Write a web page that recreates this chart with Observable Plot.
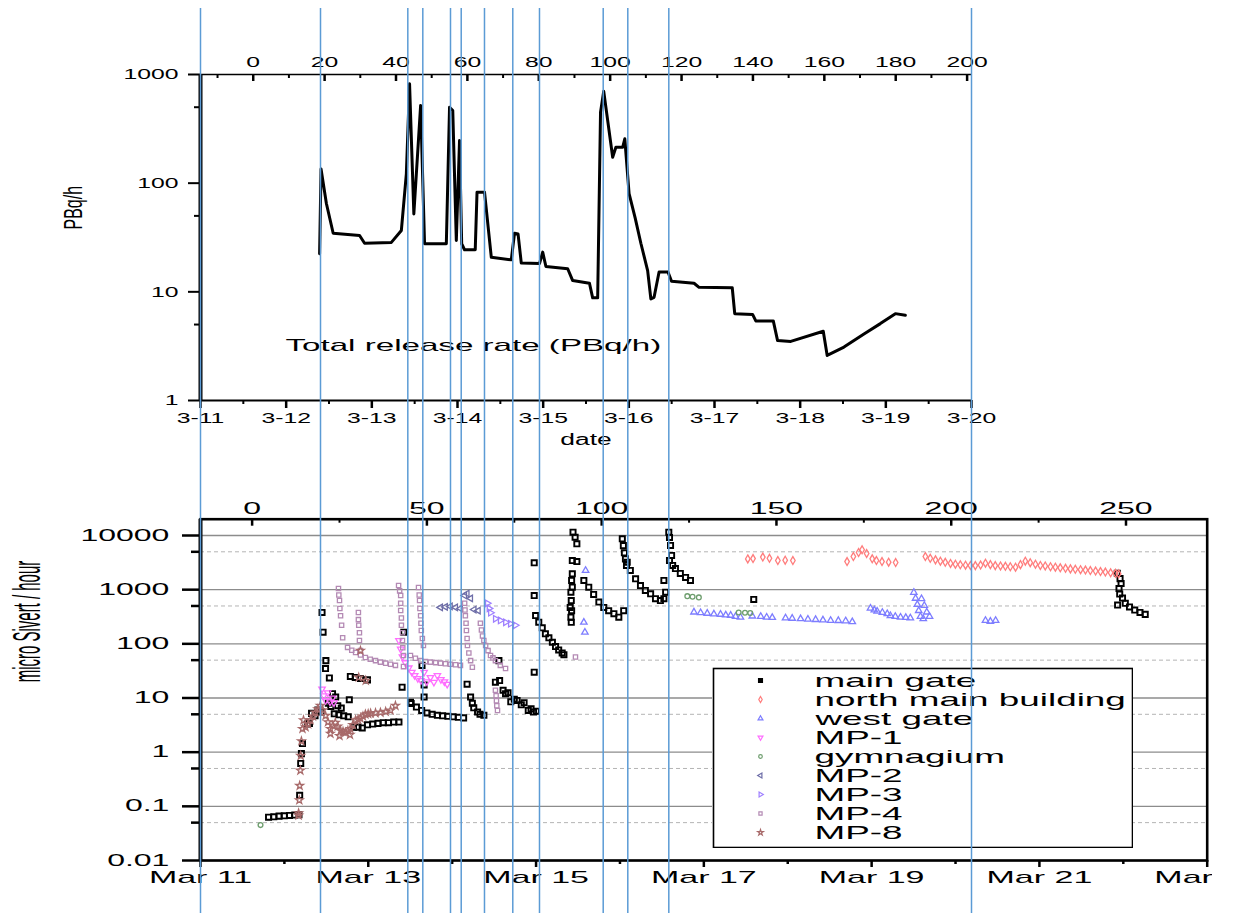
<!DOCTYPE html>
<html>
<head>
<meta charset="utf-8">
<script src="https://cdn.jsdelivr.net/npm/d3@7"></script>
<script src="https://cdn.jsdelivr.net/npm/@observablehq/plot@0.6"></script>
<style>
  body { margin: 0; background: #fff; }
  #wrap { position: relative; width: 1245px; height: 913px; overflow: hidden; background: #fff; }
  #wrap svg { max-width: none !important; }
</style>
</head>
<body>
<div id="wrap"></div>
<script>
// ---------------- DATA ----------------
// hours since the earthquake (3-11 14:46) -> x values; 3-11 00:00 is -14.77 h
const QUAKE_H = 14.77;

// top panel: total release rate (PBq/h)
const releaseRate = [[18.6,22.4],[19.0,135],[20.5,65],[22.4,34.6],[29.8,33],[31.2,28],[38.7,28.5],[41.5,36.7],[42.9,122],[43.8,820],[45.0,52],[46.9,519],[48.0,27.7],[54.1,27.7],[55.0,500],[55.9,465],[56.9,29.7],[57.8,247],[58.4,27.7],[59.2,24.4],[62.2,24.4],[62.7,82.6],[64.8,82.6],[66.7,20.8],[72.3,19.7],[73.2,34.6],[74.2,34],[75.1,18.4],[80.2,18.2],[81.1,23.2],[82.0,17.1],[88.1,16.3],[89.5,12.7],[94.2,12.0],[95.1,8.8],[96.5,8.8],[97.3,450],[98.2,700],[100.7,173],[101.6,214],[103.5,214],[104.1,256],[105.3,80],[107.0,48],[108.6,28],[110.5,15.7],[111.4,8.6],[112.3,8.9],[113.7,15.2],[116.2,15.2],[117.2,12.5],[123.5,12.0],[124.9,11.0],[134.2,10.9],[134.9,6.3],[139.9,6.2],[140.8,5.4],[145.7,5.4],[146.9,3.56],[150.6,3.5],[159.7,4.34],[160.8,2.6],[165.5,3.1],[171.1,4.1],[175.7,5.1],[179.9,6.3],[182.7,6.1]];
const releaseLabel = "Total release rate (PBq/h)";
const releaseYTicks = [1, 10, 100, 1000];
const releaseYMinor = [5, 50, 500];
const topDayLabels = ["3-11","3-12","3-13","3-14","3-15","3-16","3-17","3-18","3-19","3-20"];
const topHourTicks = [0,20,40,60,80,100,120,140,160,180,200];
const topHourMinor = [-10,10,30,50,70,90,110,130,150,170,190];

// event lines (hours on the top axis)
const eventLines = [-14.77, 18.85, 43.31, 47.51, 55.27, 58.27, 64.79, 72.72, 80.2, 98.05, 104.94, 116.43, 201.23];

// bottom panel: dose rate (micro Sv/h) by monitoring post
const seriesNames = ["main gate","north main building","west gate","MP-1","gymnagium","MP-2","MP-3","MP-4","MP-8"];
const seriesColors = ["#000000","#ff7d7d","#7d7dff","#ff6eff","#6e9e6e","#6e6ea8","#9f80ff","#b48ab4","#a86a6a"];

const mainGate = [[4.7,0.063],[6.2,0.064],[7.7,0.066],[9.2,0.067],[10.7,0.068],[12.2,0.069],[13.4,0.07],
 [13.6,0.16],[13.9,0.62],[14.1,0.94],[14.4,1.44],[15.8,3.3],[16.4,3.4],[17.0,5.2],[18.0,4.7],[18.8,6.0],[19.8,5.5],
 [20.0,380],[20.3,164],[21.1,49],[21.0,35],[22.1,23.5],[23.0,12],[23.9,10.4],[21.8,8.0],[22.5,7.0],[24.5,7.2],[25.5,6.5],[27.8,9.3],
 [28.1,25],[29.5,24],[31.0,23],[33.0,21.6],
 [23.5,5.1],[24.8,4.9],[26.2,4.7],[27.5,4.5],[29.0,2.9],[30.3,2.9],[31.5,2.8],[33.0,3.2],[34.5,3.3],[36.0,3.4],[37.5,3.5],[39.0,3.5],[40.5,3.6],[42.0,3.6],
 [42.9,15.8],[43.4,164],[45.3,8.3],[45.5,7.9],[47.0,6.8],[48.6,40],[49.2,17.4],[49.2,10.4],
 [48.5,5.9],[50.0,5.3],[51.5,5.0],[53.0,4.8],[54.5,4.7],[56.0,4.6],[57.5,4.5],[59.0,4.4],[60.5,4.3],
 [61.5,18],[62.5,10.4],[63.0,8.0],[63.4,6.6],[64.5,5.5],[65.2,5.0],[66.3,4.8],
 [69.6,19.6],[70.6,49],[70.8,21],[71.8,13.9],[72.5,12],[73.2,12.5],[74.0,8.5],[75.0,9.5],[75.8,9.0],[77.0,7.5],[77.8,8.2],[79.0,5.9],[79.8,6.3],[80.5,5.5],[81.3,5.7],
 [80.7,3130],[80.7,780],[80.7,30],
 [81.1,333],[82.0,251],[83.0,198],[83.9,153],[84.9,129],[85.9,107],[86.8,89],[87.7,77],[88.7,68],[89.2,63],
 [91.8,11500],[92.4,9300],[92.9,7030],[91.6,3450],[92.9,3300],[91.6,1960],[91.4,1480],[91.6,1110],[91.2,900],[91.3,630],[91.0,470],[91.4,410],[91.2,310],[91.3,250],
 [94.9,1480],[96.3,1110],[97.7,815],[99.2,590],[100.6,470],[102.0,410],[103.5,360],[104.9,310],[106.3,410],
 [105.9,8700],[106.2,6500],[106.5,4800],[106.8,3700],[107.1,2800],[107.3,3200],
 [108.2,2260],[109.7,1590],[111.1,1190],[112.5,966],[114.0,840],[115.4,680],[116.8,630],[117.8,680],[117.8,1480],[118.3,900],
 [119.2,11500],[119.4,9200],[119.7,6540],[120.0,4280],[119.4,3450],[120.3,2800],
 [121.1,2450],[122.5,1990],[124.0,1680],[125.4,1480],
 [143.5,660],
 [247.5,2010],[248.3,1600],[248.6,1300],[248.0,1050],[248.2,830],[249.0,700],[247.6,520],[249.8,560],[251.0,480],[252.5,420],[254.0,380],[255.5,350]];

const northMainBuilding = [[141.8,3700],[143.3,3750],[146.1,4000],[148.0,3800],[150.4,3450],[152.5,3500],[154.7,3450],
 [170.2,3300],[172.0,4090],[173.5,4850],[174.5,5450],[175.8,4660],[177.4,3710],[178.6,3450],
 [180.2,3300],[182.1,3220],[184.1,3170],
 [192.6,4090],[194.0,3800],[195.5,3550],[196.9,3350],[198.3,3200],[199.8,3050],[201.2,2950],[202.6,2880],[204.1,2830],[205.5,2800],[206.9,2780],[208.4,2850],[209.8,3080],[211.2,2900],[212.6,2780],[214.1,2740],[215.5,2700],[216.9,2650],[218.4,2600],[219.8,2900],[221.2,3360],[222.6,3150],[224.1,2950],[225.5,2800],[226.9,2740],[228.4,2650],[229.8,2600],[231.2,2530],[232.7,2480],[234.1,2420],[235.5,2380],[237.0,2340],[238.4,2300],[239.8,2250],[241.3,2210],[242.7,2160],[244.1,2110],[245.6,2050],[247.0,2000],[247.9,1960]];

const westGate = [[94.9,250],[95.2,164],[95.4,2260],
 [126.4,385],[128.3,375],[130.2,365],[132.1,355],[134.0,350],[135.5,340],[136.9,335],[138.3,320],[139.7,310],
 [143.1,325],[145.5,320],[147.2,310],[148.8,305],
 [152.6,300],[154.5,295],[156.9,290],[159.0,285],[161.2,280],[163.3,275],[165.5,270],[167.7,268],[169.8,265],[171.7,255],
 [176.9,455],[178.0,420],[178.8,400],[180.3,380],[181.7,360],
 [182.6,330],[184.0,320],[185.5,310],[187.0,305],[188.3,300],
 [189.3,890],[189.8,690],[190.3,530],[190.7,410],[191.2,320],[192.0,290],[191.5,680],[192.3,510],[193.0,385],[193.8,320],
 [209.8,270],[211.2,260],[212.7,270]];

const mp1 = [[20.0,14.7],[20.5,11],[21.0,9],[21.6,12.5],[22.3,8.5],[23.0,10],[23.4,8.2],
 [42.0,115],[42.5,80],[43.0,58],[43.8,45],[44.8,36],[45.7,30],[46.5,26],[47.4,23],[48.3,21],[49.2,30],[50.0,20],[51.0,24],[52.0,19.6],[53.0,26],[54.0,22],[55.0,20],[55.8,18]];

const gymnagium = [[2.4,0.045],[124.5,760],[126.0,740],[127.8,720],[139.2,380],[141.0,375],[142.5,370]];

const mp2 = [[53.9,470],[55.3,480],[56.7,490],[58.2,470],[59.6,450],[60.8,780],[61.5,850],[62.5,690],[63.5,430],[64.7,410]];

const mp3 = [[67.3,560],[67.8,450],[68.2,375],[69.6,290],[71.0,270],[72.5,250],[73.9,235],[75.3,220]];

const mp4 = [[24.7,1050],[24.8,800],[25.0,630],[25.1,450],[25.3,330],[25.6,220],[25.9,130],
 [27.3,86],[28.5,76],[29.6,69],[31.0,62],[32.4,56],[33.8,52],[35.3,49],[36.7,46],[38.2,44],[39.6,42],[41.0,40],[43.3,38],
 [30.4,380],[30.4,280],[30.5,220],[30.7,160],[30.7,115],[31.0,75],
 [41.9,1190],[42.2,950],[42.5,780],[42.5,560],[42.5,413],[42.7,300],[42.7,220],[43.0,160],[43.0,115],[43.1,85],[43.3,61],
 [45.3,61],[46.7,54],[48.2,49],[49.6,47],[51.0,46],[52.5,45],[53.9,44],[55.3,43],[56.7,42],[58.2,41],[59.6,40],
 [47.6,1100],[47.8,800],[47.9,630],[48.0,450],[48.2,330],[48.3,240],[48.4,176],[48.7,125],[49.0,93],
 [60.8,560],[60.9,420],[61.0,330],[61.2,240],[61.3,176],[61.5,125],[61.6,93],[62.0,68],[62.5,49],[63.0,37],
 [65.3,240],[65.6,180],[65.9,140],[66.3,115],[66.8,93],[67.5,75],[68.2,61],[68.9,55],[69.6,49],[71.0,40],[72.5,35],
 [69.6,13.9],[69.8,11],[69.9,8.9],[70.0,7.2],[70.2,5.9],
 [92.5,57]];

const mp8 = [[13.3,0.068],[13.3,0.075],[13.5,0.13],[13.6,0.24],[13.8,0.46],[13.9,0.86],[14.1,1.6],[14.4,2.7],[14.7,3.9],
 [15.3,2.9],[16.0,3.3],[16.7,3.9],[17.4,4.6],[18.1,5.4],[18.8,6.2],[19.5,7.2],[20.2,6],[21.0,4.7],[21.7,3.6],[22.4,2.7],[23.1,3.1],[23.8,3.5],[24.5,3.0],[25.3,2.5],[26.0,2.4],[26.7,2.3],[27.4,2.5],[28.1,2.7],[28.8,3.2],[29.6,3.9],[30.3,4.0],[31.0,4.2],[31.7,4.6],[32.4,5.0],[33.2,5.1],[33.9,5.2],[35.3,5.3],[36.7,5.4],[38.2,5.6],[39.6,5.9],[41.0,7.2],
 [22.4,2.2],[25.0,2.0],[28.0,2.1],
 [30.5,24],[32.5,21],[31.0,75]];

const doseDecades = [0.01, 0.1, 1, 10, 100, 1000, 10000];
const doseDecadeLabels = ["0.01","0.1","1","10","100","1000","10000"];
const doseHalves = [0.05, 0.5, 5, 50, 500, 5000];
const botDayLabels = ["Mar 11","Mar 13","Mar 15","Mar 17","Mar 19","Mar 21","Mar 23"];
const botHourTicks = [0, 50, 100, 150, 200, 250];
const botHourMinor = [25, 75, 125, 175, 225];
const yLabelBottom = "micro Sivert / hour";

// ---------------- SYMBOLS ----------------
function tri(angle) {
  return {draw(ctx, size) {
    const r = Math.sqrt(size / 1.299);
    for (let k = 0; k < 3; k++) {
      const a = angle + k * 2 * Math.PI / 3;
      const x = r * Math.cos(a), y = r * Math.sin(a);
      if (k === 0) ctx.moveTo(x, y); else ctx.lineTo(x, y);
    }
    ctx.closePath();
  }};
}
const triDown = tri(Math.PI / 2), triLeft = tri(Math.PI), triRight = tri(0);
const seriesSymbols = ["square", "diamond", "triangle", triDown, "circle", triLeft, triRight, "square", "star"];
const seriesData = [mainGate, northMainBuilding, westGate, mp1, gymnagium, mp2, mp3, mp4, mp8];

// ---------------- LAYOUT ----------------
const W = 1245, H = 913;
const FONT = "'Liberation Sans', Arial, Helvetica, sans-serif";
const baseStyle = {background: "transparent", overflow: "visible", fontFamily: FONT, fontSize: "15px", color: "black", maxWidth: "none"};

// top chart
const topFrameH = H - 74 - 513;
const topDayTicks = topDayLabels.map((_, i) => i * 24 - QUAKE_H);
const topHalfTicks = topDayLabels.slice(0, -1).map((_, i) => i * 24 + 12 - QUAKE_H);
const topDayLabel = new Map(topDayTicks.map((t, i) => [t, topDayLabels[i]]));

const topPlot = Plot.plot({
  width: W, height: H,
  marginLeft: 200, marginRight: 274, marginTop: 74, marginBottom: 513,
  x: {domain: [-QUAKE_H, 9 * 24 - QUAKE_H], label: null},
  y: {type: "log", domain: [1, 1000], label: null},
  style: baseStyle,
  marks: [
    Plot.ruleY([1000], {strokeWidth: 1.6}),
    Plot.ruleY([1], {strokeWidth: 2}),
    Plot.axisY(releaseYTicks, {anchor: "left", tickSize: 12, tickPadding: 10, strokeWidth: 2, tickFormat: d => String(d), label: null, fontSize: 15}),
    Plot.axisY(releaseYMinor, {anchor: "left", tickSize: 6, strokeWidth: 2, tickFormat: () => "", label: null}),
    Plot.axisX(topDayTicks, {anchor: "bottom", tickSize: 8, tickPadding: 4, strokeWidth: 2.5, tickFormat: d => topDayLabel.get(d), label: null, fontSize: 15}),
    Plot.axisX(topHalfTicks, {anchor: "bottom", tickSize: 4, strokeWidth: 2, tickFormat: () => "", label: null}),
    Plot.axisX(topHourTicks, {anchor: "top", tickSize: 0, tickPadding: 8, tickFormat: d => String(d), label: null, fontSize: 15}),
    Plot.ruleX(topHourTicks, {insetBottom: topFrameH - 7, strokeWidth: 2.5}),
    Plot.ruleX(topHourMinor, {insetBottom: topFrameH - 4, strokeWidth: 2}),
    Plot.ruleX([-QUAKE_H], {strokeWidth: 4}),
    Plot.line(releaseRate, {x: d => d[0], y: d => d[1], stroke: "black", strokeWidth: 3, strokeLinejoin: "round"}),
    Plot.text([releaseLabel], {frameAnchor: "bottom-left", dx: 85, dy: -50, textAnchor: "start", fontSize: 17}),
    Plot.text(["date"], {frameAnchor: "bottom", dy: 44, fontSize: 16}),
    Plot.text(["PBq/h"], {frameAnchor: "left", dx: -127, dy: -8, rotate: -90, fontSize: 16}),
    Plot.ruleX(eventLines, {stroke: "#5b9bd5", strokeWidth: 1.5, insetTop: -66, insetBottom: -513})
  ]
});

// bottom chart
const botTop = 518.7, botBottom = 53;
const botFrameH = H - botTop - botBottom;
const botDayTicks = botDayLabels.map((_, i) => i * 48 - QUAKE_H);
const botOddTicks = botDayLabels.slice(0, -1).map((_, i) => i * 48 + 24 - QUAKE_H);
const botDayLabel = new Map(botDayTicks.map((t, i) => [t, botDayLabels[i]]));
const doseLabel = new Map(doseDecades.map((d, i) => [d, doseDecadeLabels[i]]));

const seriesMarks = seriesData.map((pts, i) => Plot.dot(pts, {
  x: d => d[0], y: d => d[1],
  symbol: seriesSymbols[i], stroke: seriesColors[i], fill: "none",
  r: i === 0 ? 2.9 : 2.4, strokeWidth: i === 0 ? 1.9 : 1.3
}));

const botPlot = Plot.plot({
  width: W, height: H,
  marginLeft: 200, marginRight: 38.3, marginTop: botTop, marginBottom: botBottom,
  x: {domain: [-QUAKE_H, 12 * 24 - QUAKE_H], label: null},
  y: {type: "log", domain: [0.01, 20000], label: null},
  style: {...baseStyle, background: "white"},
  marks: [
    Plot.gridY(doseDecades, {stroke: "#8c8c8c", strokeOpacity: 1, strokeWidth: 1.3}),
    Plot.gridY(doseHalves, {stroke: "#b4b4b4", strokeOpacity: 1, strokeWidth: 1, strokeDasharray: "4,3"}),
    ...seriesMarks,
    Plot.frame({stroke: "black", strokeWidth: 2.6}),
    Plot.ruleX([-QUAKE_H], {strokeWidth: 4}),
    Plot.axisY(doseDecades, {anchor: "left", tickSize: 18, tickPadding: 13, strokeWidth: 2.5, tickFormat: d => doseLabel.get(d), label: null, fontSize: 16}),
    Plot.axisY(doseHalves, {anchor: "left", tickSize: 9, strokeWidth: 2.5, tickFormat: () => "", label: null}),
    Plot.axisX(botDayTicks, {anchor: "bottom", tickSize: 7, tickPadding: 3, strokeWidth: 2.5, tickFormat: d => botDayLabel.get(d), label: null, fontSize: 17}),
    Plot.axisX(botOddTicks, {anchor: "bottom", tickSize: 4, strokeWidth: 2.5, tickFormat: () => "", label: null}),
    Plot.axisX(botHourTicks, {anchor: "top", tickSize: 0, tickPadding: 5, tickFormat: d => String(d), label: null, fontSize: 16}),
    Plot.ruleX(botHourTicks, {insetBottom: botFrameH - 7, strokeWidth: 2.5}),
    Plot.ruleX(botHourMinor, {insetBottom: botFrameH - 4, strokeWidth: 2}),
    Plot.text([yLabelBottom], {frameAnchor: "left", dx: -174, dy: -7.5, rotate: -90, fontSize: 15})
  ]
});

// legend
const legendPlot = Plot.plot({
  width: 421, height: 181,
  marginTop: 1, marginBottom: 1, marginLeft: 1, marginRight: 1,
  y: {type: "point", domain: seriesNames, padding: 0, insetTop: 8, insetBottom: 12, axis: null},
  style: {...baseStyle, background: "white"},
  marks: [
    Plot.frame({stroke: "black", strokeWidth: 1.6}),
    ...seriesNames.map((name, i) => Plot.dot([name], {
      y: d => d, frameAnchor: "left", dx: 47,
      symbol: seriesSymbols[i], stroke: seriesColors[i], fill: i === 0 ? "black" : "none",
      r: i === 0 ? 2.2 : 1.8, strokeWidth: 1.2
    })),
    Plot.text(seriesNames, {y: d => d, text: d => d, frameAnchor: "left", dx: 101, textAnchor: "start", fontSize: 19})
  ]
});

// ---------------- ASSEMBLE ----------------
const wrap = document.getElementById("wrap");
function layer(node, left, top, width, height) {
  const d = document.createElement("div");
  d.style.cssText = `position:absolute;left:${left}px;top:${top}px;width:${width}px;height:${height}px;overflow:hidden;`;
  node.style.maxWidth = "none";
  node.style.width = node.getAttribute("width") + "px";
  node.style.height = node.getAttribute("height") + "px";
  d.appendChild(node);
  wrap.appendChild(d);
}
layer(botPlot, 0, 0, 1212, H);
layer(legendPlot, 712, 667, 421, 181);
layer(topPlot, 0, 0, W, H);

// the reference glyphs are horizontally stretched: widen text about its anchor
function stretch(svg, s, overrides = {}) {
  const ns = "http://www.w3.org/2000/svg";
  for (const t of Array.from(svg.querySelectorAll("text"))) {
    const content = t.textContent;
    if (!content.trim()) continue;
    const k = overrides[content] ?? s;
    const g = document.createElementNS(ns, "g");
    t.parentNode.insertBefore(g, t);
    g.appendChild(t);
    const bb = g.getBBox();
    const rot = /rotate/.test(t.getAttribute("transform") || "");
    const anchor = getComputedStyle(t).textAnchor;
    const cx = (rot || anchor === "middle") ? bb.x + bb.width / 2 : anchor === "end" ? bb.x + bb.width : bb.x;
    g.setAttribute("transform", `translate(${cx},0) scale(${k},1) translate(${-cx},0)`);
  }
}
stretch(topPlot, 1.65, {[releaseLabel]: 1.95});
stretch(botPlot, 2.0, {[yLabelBottom]: 2.6});
stretch(legendPlot, 1.94);
</script>
</body>
</html>
